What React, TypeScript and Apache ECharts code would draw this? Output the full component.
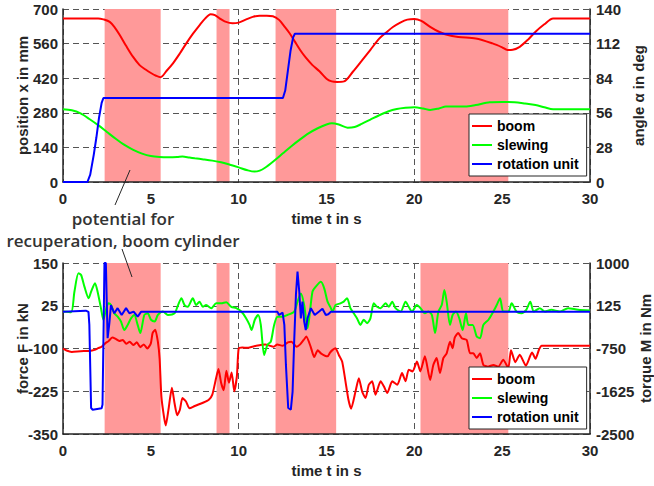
import React, { useEffect, useRef } from "react";
import * as echarts from "echarts";

// ---------- data ----------
const timeBands: [number, number][] = [
  [2.37, 5.56],
  [8.74, 9.48],
  [12.1, 15.55],
  [20.35, 25.35],
];

const xTicks = { min: 0, max: 30, interval: 5 };

// top plot: boom position (mm)
const boomPos: [number, number][] = [
  [0, 662], [2.0, 662], [2.3, 658], [2.66, 648], [2.95, 625], [3.23, 595], [3.6, 550], [3.98, 507],
  [4.36, 473], [4.7, 455], [5.03, 440], [5.3, 430], [5.55, 424], [5.9, 450], [6.26, 480], [6.65, 520],
  [7.02, 561], [7.4, 600], [7.78, 635], [8.1, 662], [8.4, 679], [8.65, 675], [8.91, 662], [9.2, 650],
  [9.65, 642], [10.0, 645], [10.43, 658], [10.8, 668], [11.2, 673], [11.6, 673], [11.95, 671], [12.3, 656],
  [12.6, 630], [12.9, 602], [13.2, 568], [13.5, 534], [13.8, 505], [14.2, 473], [14.6, 448], [15.0, 418],
  [15.3, 407], [15.6, 405], [16.0, 407], [16.5, 446], [17.0, 490], [17.5, 535], [18.0, 580], [18.4, 605],
  [18.8, 628], [19.2, 645], [19.6, 657], [20.0, 660], [20.4, 652], [20.9, 628], [21.4, 608], [21.8, 597],
  [22.5, 587], [23.5, 581], [24.45, 561], [25.0, 545], [25.3, 534], [25.6, 535], [26.0, 547], [26.5, 578],
  [26.9, 608], [27.4, 638], [27.9, 662], [30, 662],
];

// top plot: slewing angle (deg)
const slewAngle: [number, number][] = [
  [0, 58.8], [0.5, 58], [1, 55.5], [1.5, 51], [2, 46], [2.5, 40.5], [3, 35], [3.5, 30], [4, 26], [4.5, 23],
  [5, 21], [5.5, 20.2], [6, 20], [6.5, 20.2], [6.8, 20.6], [7.2, 19.8], [7.5, 19.2], [8, 18.3], [8.5, 17.3],
  [9, 16], [9.5, 14], [10, 11.8], [10.5, 9.5], [10.9, 8.4], [11.2, 9.2], [11.5, 11.5], [12, 17], [12.5, 23],
  [13, 29], [13.5, 34.5], [14, 39.5], [14.5, 43.5], [15, 46.5], [15.3, 47.5], [15.7, 46.5], [16.2, 44],
  [16.6, 44.5], [17, 47], [17.5, 50.5], [18, 54], [18.5, 57], [19, 59], [19.5, 60], [20, 60.5], [20.5, 59.5],
  [20.9, 58.3], [21.4, 59.5], [21.8, 61], [22.4, 61], [22.9, 61], [23.5, 62.3], [24.3, 64.5], [25, 64.7],
  [25.7, 64.5], [26.3, 63.5], [26.9, 62.3], [27.4, 60.5], [27.9, 58.8], [30, 58.8],
];

// top plot: rotation unit angle (deg)
const rotAngle: [number, number][] = [
  [0, 0], [1.39, 0], [1.55, 6], [1.75, 22], [1.9, 36], [2.05, 52], [2.2, 64], [2.3, 68], [12.52, 68],
  [12.65, 74], [12.8, 90], [12.95, 106], [13.1, 117], [13.2, 120], [30, 120],
];

// bottom plot: boom force (kN)
const boomForce: [number, number][] = [
  [0, -100], [0.2, -106], [0.5, -110], [1.0, -108], [1.5, -107], [1.8, -104], [2.0, -99], [2.2, -95],
  [2.4, -85], [2.6, -78], [2.8, -68], [3.0, -72], [3.2, -78], [3.4, -75], [3.6, -86], [3.8, -80], [4.0, -90],
  [4.2, -82], [4.4, -96], [4.6, -88], [4.8, -100], [5.0, -85], [5.1, -55], [5.25, -45], [5.4, -80], [5.5, -130],
  [5.6, -240], [5.75, -300], [5.85, -325], [6.0, -280], [6.2, -215], [6.35, -260], [6.5, -295], [6.65, -280],
  [6.8, -245], [7.0, -255], [7.2, -275], [7.5, -268], [8.0, -258], [8.3, -250], [8.5, -235], [8.7, -190],
  [8.85, -160], [9.0, -200], [9.15, -222], [9.3, -165], [9.45, -200], [9.6, -170], [9.75, -225], [9.9, -180],
  [10.0, -100], [10.2, -97], [10.5, -98], [11.0, -92], [11.5, -88], [12.0, -95], [12.2, -88], [12.5, -92],
  [12.8, -82], [13.0, -80], [13.3, -95], [13.5, -88], [13.7, -75], [13.85, -65], [14.1, -95], [14.3, -125],
  [14.5, -105], [14.7, -115], [15.06, -123], [15.2, -112], [15.35, -104], [15.51, -99], [15.7, -119],
  [15.89, -138], [16.08, -196], [16.25, -250], [16.4, -276], [16.65, -226], [16.84, -187], [17.03, -226],
  [17.22, -245], [17.41, -206], [17.6, -196], [17.79, -235], [18.08, -196], [18.27, -211], [18.46, -230],
  [18.74, -196], [19.03, -206], [19.3, -172], [19.5, -196], [19.68, -162], [19.9, -167], [20.15, -138],
  [20.34, -167], [20.6, -123], [20.9, -192], [21.08, -148], [21.27, -128], [21.46, -172], [21.65, -128],
  [21.84, -114], [22.03, -80], [22.18, -99], [22.3, -68], [22.5, -55], [22.7, -70], [22.98, -75],
  [23.17, -114], [23.36, -114], [23.55, -128], [23.74, -114], [23.93, -148], [24.2, -153], [24.5, -148],
  [24.78, -153], [25.06, -133], [25.35, -157], [25.5, -105], [25.75, -140], [26.0, -118], [26.35, -150],
  [26.7, -112], [26.9, -130], [27.1, -103], [27.25, -92], [30, -92],
];

// bottom plot: slewing torque (Nm)
const slewTorque: [number, number][] = [
  [0.04, 6], [0.46, -8], [0.65, 412], [0.88, 790], [1.03, 755], [1.22, 517], [1.46, 279], [1.6, 412],
  [1.82, 587], [1.97, 412], [2.16, 76], [2.3, -162], [2.42, 6], [2.58, 174], [2.73, 139], [2.92, -29],
  [3.11, -99], [3.3, -197], [3.49, -372], [3.68, -267], [3.87, -134], [4.06, -64], [4.25, -267], [4.4, -435],
  [4.63, -64], [4.82, -29], [5.01, -162], [5.22, -197], [5.4, -64], [5.69, 6], [5.97, -64], [6.35, -29],
  [6.55, 139], [6.74, 279], [6.92, 139], [7.1, 104], [7.39, 279], [7.58, 139], [7.77, 209], [7.96, 104],
  [8.15, 139], [8.44, 76], [8.72, 174], [9.0, 174], [9.29, 195], [9.58, 104], [9.86, 76], [10.15, 6],
  [10.43, -134], [10.62, -267], [10.73, -372], [10.92, -162], [11.11, -64], [11.26, -267], [11.45, -883],
  [11.64, -673], [11.83, -610], [12.02, -267], [12.21, -99], [12.5, -99], [12.78, -64], [13.16, 6],
  [13.35, 209], [13.54, 377], [13.73, 139], [13.92, -337], [14.2, 412], [14.39, 517], [14.68, 615],
  [14.87, 482], [15.06, 209], [15.25, 76], [15.35, 6], [15.51, 139], [15.79, 174], [15.98, 209], [16.17, 279],
  [16.36, 76], [16.55, -29], [16.74, -134], [16.93, -267], [17.12, -162], [17.31, -232], [17.5, -134],
  [17.69, 174], [17.88, 104], [18.08, 76], [18.36, 174], [18.55, 104], [18.74, 209], [18.93, 76], [19.22, 6],
  [19.5, 209], [19.68, 104], [19.87, 6], [20.14, 139], [20.35, 76], [20.6, -29], [20.8, 6], [21.0, -64],
  [21.18, -435], [21.37, 6], [21.56, 139], [21.71, 447], [21.84, 209], [22.03, -267], [22.18, -64],
  [22.37, 6], [22.56, -134], [22.75, -372], [22.94, -29], [23.08, -267], [23.32, -267], [23.55, -505],
  [23.74, -540], [23.93, -267], [24.22, -162], [24.5, 6], [24.69, 139], [24.88, 279], [25.06, 6], [25.35, 6],
  [25.54, 174], [25.81, 6], [26.09, -29], [26.37, 41], [26.6, 209], [26.8, 6], [27.14, 76], [27.42, 6],
  [27.8, 41], [28.28, 6], [28.75, 76], [29.32, 41], [30, 27],
];

// bottom plot: rotation unit torque (Nm)
const rotTorque: [number, number][] = [
  [0, 0], [1.3, 25], [1.45, 0], [1.5, -267], [1.6, -1968], [1.69, -2003], [2.2, -1975], [2.25, -1898],
  [2.3, -610], [2.36, 1000], [2.44, 1000], [2.54, -540], [2.64, -232], [2.73, 139], [2.92, -29], [3.11, 76],
  [3.34, -64], [3.59, 76], [3.78, -29], [4.02, 6], [4.25, -99], [4.44, 0], [12.21, 0], [12.3, -64],
  [12.5, -15], [12.6, -267], [12.69, -1086], [12.82, -1968], [12.97, -2003], [13.07, -1632], [13.16, -610],
  [13.26, 349], [13.35, 825], [13.45, 412], [13.54, -134], [13.63, 209], [13.73, -197], [13.82, -372],
  [13.92, -134], [14.11, 76], [14.33, -64], [14.58, 6], [14.77, 62], [14.96, -64], [15.1, -50], [15.25, 0],
  [30, 0],
];

const legendNames = ["boom", "slewing", "rotation unit"];
const topLeftAxis = { min: 0, max: 700, interval: 140, name: "position x in mm" };
const topRightAxis = { min: 0, max: 140, interval: 28, name: "angle α in deg" };
const botLeftAxis = { min: -350, max: 150, interval: 125, name: "force F in kN" };
const botRightAxis = { min: -2500, max: 1000, interval: 875, name: "torque M in Nm" };
const annotationLines = ["potential for", "recuperation, boom cylinder"];

// ---------- styling ----------
const FONT = '"Liberation Sans", Arial, Helvetica, sans-serif';
const AX = "#262626";
const RED = "#ff0000";
const GREEN = "#00ff00";
const BLUE = "#0000ff";
const BAND = "#ff9999";

export default function App() {
  const ref = useRef<HTMLDivElement>(null);

  useEffect(() => {
    if (!ref.current) return;
    const chart = echarts.init(ref.current, null, { renderer: "svg" });

    const labelStyle = { fontSize: 15, fontWeight: "bold" as const, color: AX, fontFamily: FONT };
    const gridLine = { show: true, lineStyle: { color: "#555", width: 1, type: [6, 4] as number[] } };
    const plain = (v: number) => String(v);

    const xAxis = [0, 1].map((i) => ({
      type: "value",
      gridIndex: i,
      ...xTicks,
      name: "time t in s",
      nameLocation: "middle",
      nameGap: 29,
      nameMoveOverlap: false,
      nameTextStyle: labelStyle,
      axisLine: { show: true, onZero: false, lineStyle: { color: AX, width: 1.5 } },
      axisTick: { show: false },
      axisLabel: { ...labelStyle, margin: 9, showMinLabel: true, showMaxLabel: true, formatter: plain },
      splitLine: gridLine,
      z: 1,
    }));

    const mkY = (ax: any, grid: number, right: boolean, gap: number) => ({
      type: "value",
      gridIndex: grid,
      position: right ? "right" : "left",
      min: ax.min,
      max: ax.max,
      interval: ax.interval,
      name: ax.name,
      nameLocation: "middle",
      nameRotate: 90,
      nameGap: gap,
      nameMoveOverlap: false,
      nameTextStyle: labelStyle,
      axisLine: { show: true, onZero: false, lineStyle: { color: AX, width: 1.5 } },
      axisTick: { show: false },
      axisLabel: {
        ...labelStyle,
        margin: right ? 6 : 5,
        showMinLabel: true,
        showMaxLabel: true,
        formatter: plain,
      },
      splitLine: right ? { show: false } : gridLine,
      z: 1,
    });

    const yAxis = [
      mkY(topLeftAxis, 0, false, 33),
      mkY(topRightAxis, 0, true, 41),
      mkY(botLeftAxis, 1, false, 33),
      mkY(botRightAxis, 1, true, 48),
    ];

    const bandSeries = (xi: number, yi: number) => ({
      type: "line",
      xAxisIndex: xi,
      yAxisIndex: yi,
      data: [[0, yi === 0 ? 0 : -350], [30, yi === 0 ? 0 : -350]],
      symbol: "none",
      silent: true,
      lineStyle: { width: 0, opacity: 0 },
      z: 0,
      markArea: {
        silent: true,
        itemStyle: { color: BAND, opacity: 1 },
        data: timeBands.map(([a, b]) => [{ xAxis: a }, { xAxis: b }]),
      },
    });

    const line = (name: string, data: any, xi: number, yi: number, color: string, smooth: number | boolean) => ({
      type: "line",
      name,
      data,
      xAxisIndex: xi,
      yAxisIndex: yi,
      symbol: "none",
      showSymbol: false,
      smooth,
      lineStyle: { color, width: 2 },
      itemStyle: { color },
      z: 2,
    });

    const legendBase = {
      orient: "vertical",
      left: 469,
      data: legendNames,
      icon: "rect",
      backgroundColor: "#fff",
      borderColor: AX,
      borderWidth: 1,
      borderRadius: 0,
      padding: [5, 8, 5, 3],
      itemGap: 5,
      itemWidth: 20,
      itemHeight: 2,
      selectedMode: false,
      textStyle: { fontSize: 14, lineHeight: 14, fontWeight: "bold", color: "#000", fontFamily: FONT },
    };

    const option: any = {
      animation: false,
      textStyle: { fontFamily: FONT },
      grid: [
        { left: 63, right: 64, top: 9, height: 173, outerBoundsMode: "none", containLabel: false },
        { left: 63, right: 64, top: 263, height: 171, outerBoundsMode: "none", containLabel: false },
      ],
      xAxis,
      yAxis,
      legend: [
        { ...legendBase, top: 114 },
        { ...legendBase, top: 367 },
      ],
      series: [
        bandSeries(0, 0),
        line("boom", boomPos, 0, 0, RED, 0.3),
        line("slewing", slewAngle, 0, 1, GREEN, 0.3),
        line("rotation unit", rotAngle, 0, 1, BLUE, false),
        bandSeries(1, 2),
        line("boom", boomForce, 1, 2, RED, 0.2),
        line("slewing", slewTorque, 1, 3, GREEN, 0.25),
        line("rotation unit", rotTorque, 1, 3, BLUE, false),
      ],
      graphic: [
        {
          type: "text",
          z: 10,
          style: {
            text: annotationLines[0],
            x: 123,
            y: 218,
            textAlign: "center",
            textVerticalAlign: "middle",
            fill: "#333",
            font: '600 17px "Open Sans", "Noto Sans", sans-serif',
          },
        },
        {
          type: "text",
          z: 10,
          style: {
            text: annotationLines[1],
            x: 123,
            y: 240,
            textAlign: "center",
            textVerticalAlign: "middle",
            fill: "#333",
            font: '600 17px "Open Sans", "Noto Sans", sans-serif',
          },
        },
        {
          type: "line",
          z: 10,
          shape: { x1: 130, y1: 170, x2: 115, y2: 205 },
          style: { stroke: "#262626", lineWidth: 1 },
        },
        {
          type: "line",
          z: 10,
          shape: { x1: 122, y1: 249, x2: 132, y2: 277 },
          style: { stroke: "#262626", lineWidth: 1 },
        },
      ],
    };

    chart.setOption(option);
    return () => chart.dispose();
  }, []);

  return (
    <div
      ref={ref}
      style={{ position: "fixed", left: 0, top: 0, width: 654, height: 486, background: "#fff" }}
    />
  );
}
